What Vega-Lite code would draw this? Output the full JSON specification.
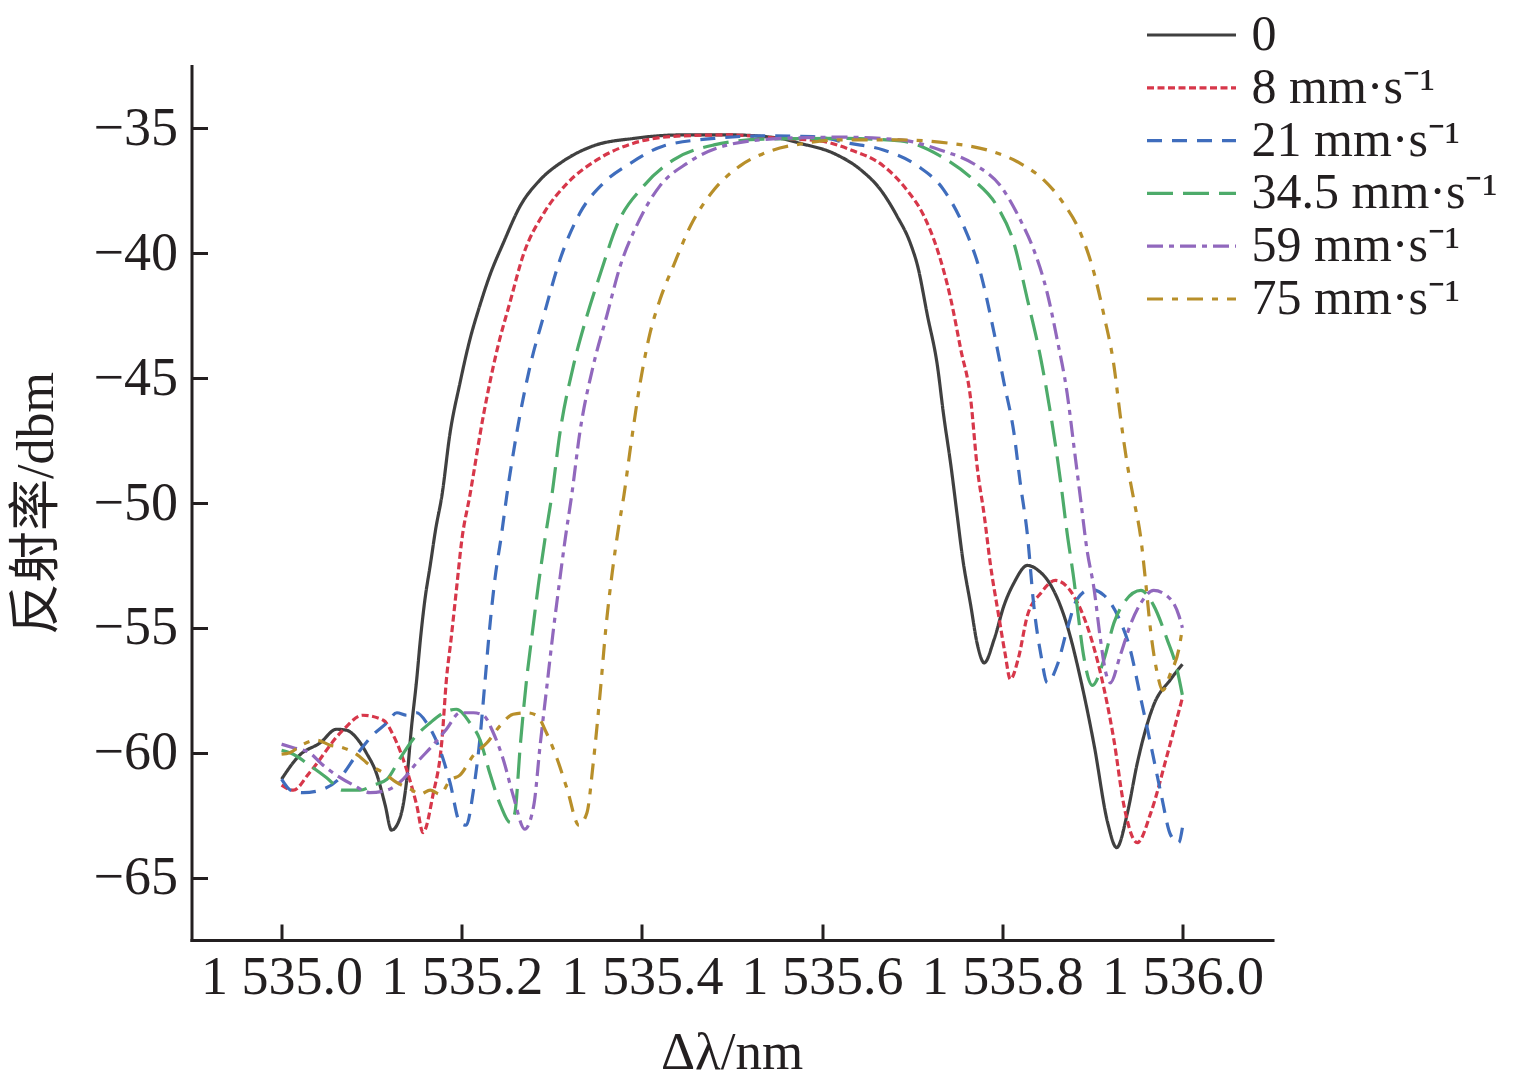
{
  "$schema": "https://vega.github.io/schema/vega-lite/v6.json",
  "width": 1081,
  "height": 874,
  "autosize": {"type": "none"},
  "padding": {"left": 191.5, "top": 66, "right": 262.5, "bottom": 149},
  "background": "white",
  "config": {
    "view": {"stroke": null},
    "font": "Liberation Serif"
  },
  "datasets": {
    "c": [
      {"v":"0","x":1535.000,"y":-61.06},{"v":"0","x":1535.020,"y":-60.10},{"v":"0","x":1535.043,"y":-59.60},{"v":"0","x":1535.061,"y":-59.06},{"v":"0","x":1535.072,"y":-59.10},{"v":"0","x":1535.083,"y":-59.40},{"v":"0","x":1535.094,"y":-60.00},{"v":"0","x":1535.106,"y":-60.90},{"v":"0","x":1535.115,"y":-62.10},{"v":"0","x":1535.122,"y":-63.10},{"v":"0","x":1535.131,"y":-62.66},{"v":"0","x":1535.139,"y":-61.06},{"v":"0","x":1535.144,"y":-59.06},{"v":"0","x":1535.150,"y":-57.06},{"v":"0","x":1535.154,"y":-55.50},{"v":"0","x":1535.159,"y":-53.90},{"v":"0","x":1535.165,"y":-52.50},{"v":"0","x":1535.171,"y":-51.06},{"v":"0","x":1535.178,"y":-49.70},{"v":"0","x":1535.187,"y":-47.20},{"v":"0","x":1535.198,"y":-45.20},{"v":"0","x":1535.209,"y":-43.46},{"v":"0","x":1535.220,"y":-42.10},{"v":"0","x":1535.231,"y":-40.90},{"v":"0","x":1535.246,"y":-39.60},{"v":"0","x":1535.265,"y":-38.10},{"v":"0","x":1535.287,"y":-37.06},{"v":"0","x":1535.313,"y":-36.30},{"v":"0","x":1535.346,"y":-35.70},{"v":"0","x":1535.391,"y":-35.40},{"v":"0","x":1535.443,"y":-35.26},{"v":"0","x":1535.498,"y":-35.26},{"v":"0","x":1535.554,"y":-35.40},{"v":"0","x":1535.576,"y":-35.60},{"v":"0","x":1535.613,"y":-36.00},{"v":"0","x":1535.643,"y":-36.66},{"v":"0","x":1535.665,"y":-37.46},{"v":"0","x":1535.683,"y":-38.50},{"v":"0","x":1535.698,"y":-39.60},{"v":"0","x":1535.706,"y":-40.50},{"v":"0","x":1535.717,"y":-42.50},{"v":"0","x":1535.728,"y":-44.50},{"v":"0","x":1535.735,"y":-46.50},{"v":"0","x":1535.743,"y":-48.50},{"v":"0","x":1535.750,"y":-50.50},{"v":"0","x":1535.756,"y":-52.20},{"v":"0","x":1535.765,"y":-54.10},{"v":"0","x":1535.772,"y":-55.60},{"v":"0","x":1535.780,"y":-56.40},{"v":"0","x":1535.791,"y":-55.46},{"v":"0","x":1535.802,"y":-54.10},{"v":"0","x":1535.813,"y":-53.20},{"v":"0","x":1535.828,"y":-52.50},{"v":"0","x":1535.840,"y":-52.70},{"v":"0","x":1535.854,"y":-53.30},{"v":"0","x":1535.872,"y":-54.90},{"v":"0","x":1535.887,"y":-57.06},{"v":"0","x":1535.902,"y":-59.70},{"v":"0","x":1535.917,"y":-62.80},{"v":"0","x":1535.927,"y":-63.80},{"v":"0","x":1535.939,"y":-62.40},{"v":"0","x":1535.950,"y":-60.40},{"v":"0","x":1535.968,"y":-58.10},{"v":"0","x":1535.987,"y":-57.06},{"v":"0","x":1536.000,"y":-56.46},

      {"v":"8 mm·s⁻¹","x":1535.000,"y":-61.30},{"v":"8 mm·s⁻¹","x":1535.013,"y":-61.50},{"v":"8 mm·s⁻¹","x":1535.031,"y":-60.80},{"v":"8 mm·s⁻¹","x":1535.068,"y":-59.10},{"v":"8 mm·s⁻¹","x":1535.090,"y":-58.50},{"v":"8 mm·s⁻¹","x":1535.113,"y":-58.70},{"v":"8 mm·s⁻¹","x":1535.124,"y":-59.30},{"v":"8 mm·s⁻¹","x":1535.139,"y":-60.70},{"v":"8 mm·s⁻¹","x":1535.150,"y":-62.10},{"v":"8 mm·s⁻¹","x":1535.157,"y":-63.20},{"v":"8 mm·s⁻¹","x":1535.168,"y":-61.70},{"v":"8 mm·s⁻¹","x":1535.178,"y":-59.50},{"v":"8 mm·s⁻¹","x":1535.183,"y":-57.06},{"v":"8 mm·s⁻¹","x":1535.188,"y":-55.50},{"v":"8 mm·s⁻¹","x":1535.194,"y":-53.50},{"v":"8 mm·s⁻¹","x":1535.200,"y":-51.50},{"v":"8 mm·s⁻¹","x":1535.209,"y":-49.70},{"v":"8 mm·s⁻¹","x":1535.224,"y":-46.50},{"v":"8 mm·s⁻¹","x":1535.239,"y":-43.90},{"v":"8 mm·s⁻¹","x":1535.254,"y":-41.90},{"v":"8 mm·s⁻¹","x":1535.268,"y":-40.10},{"v":"8 mm·s⁻¹","x":1535.291,"y":-38.40},{"v":"8 mm·s⁻¹","x":1535.317,"y":-37.20},{"v":"8 mm·s⁻¹","x":1535.350,"y":-36.26},{"v":"8 mm·s⁻¹","x":1535.390,"y":-35.60},{"v":"8 mm·s⁻¹","x":1535.443,"y":-35.30},{"v":"8 mm·s⁻¹","x":1535.498,"y":-35.26},{"v":"8 mm·s⁻¹","x":1535.554,"y":-35.40},{"v":"8 mm·s⁻¹","x":1535.598,"y":-35.50},{"v":"8 mm·s⁻¹","x":1535.632,"y":-35.86},{"v":"8 mm·s⁻¹","x":1535.668,"y":-36.50},{"v":"8 mm·s⁻¹","x":1535.694,"y":-37.46},{"v":"8 mm·s⁻¹","x":1535.713,"y":-38.50},{"v":"8 mm·s⁻¹","x":1535.728,"y":-39.86},{"v":"8 mm·s⁻¹","x":1535.743,"y":-41.86},{"v":"8 mm·s⁻¹","x":1535.754,"y":-43.86},{"v":"8 mm·s⁻¹","x":1535.765,"y":-45.86},{"v":"8 mm·s⁻¹","x":1535.772,"y":-48.50},{"v":"8 mm·s⁻¹","x":1535.780,"y":-50.50},{"v":"8 mm·s⁻¹","x":1535.787,"y":-52.50},{"v":"8 mm·s⁻¹","x":1535.796,"y":-54.50},{"v":"8 mm·s⁻¹","x":1535.803,"y":-56.00},{"v":"8 mm·s⁻¹","x":1535.809,"y":-57.06},{"v":"8 mm·s⁻¹","x":1535.818,"y":-56.20},{"v":"8 mm·s⁻¹","x":1535.828,"y":-54.50},{"v":"8 mm·s⁻¹","x":1535.843,"y":-53.60},{"v":"8 mm·s⁻¹","x":1535.859,"y":-53.10},{"v":"8 mm·s⁻¹","x":1535.879,"y":-53.70},{"v":"8 mm·s⁻¹","x":1535.894,"y":-54.90},{"v":"8 mm·s⁻¹","x":1535.909,"y":-56.80},{"v":"8 mm·s⁻¹","x":1535.924,"y":-59.50},{"v":"8 mm·s⁻¹","x":1535.935,"y":-62.10},{"v":"8 mm·s⁻¹","x":1535.950,"y":-63.60},{"v":"8 mm·s⁻¹","x":1535.965,"y":-62.40},{"v":"8 mm·s⁻¹","x":1535.983,"y":-60.10},{"v":"8 mm·s⁻¹","x":1536.000,"y":-57.80},

      {"v":"21 mm·s⁻¹","x":1535.000,"y":-61.06},{"v":"21 mm·s⁻¹","x":1535.010,"y":-61.50},{"v":"21 mm·s⁻¹","x":1535.024,"y":-61.60},{"v":"21 mm·s⁻¹","x":1535.043,"y":-61.50},{"v":"21 mm·s⁻¹","x":1535.065,"y":-61.00},{"v":"21 mm·s⁻¹","x":1535.083,"y":-60.10},{"v":"21 mm·s⁻¹","x":1535.101,"y":-59.30},{"v":"21 mm·s⁻¹","x":1535.117,"y":-58.80},{"v":"21 mm·s⁻¹","x":1535.128,"y":-58.40},{"v":"21 mm·s⁻¹","x":1535.139,"y":-58.50},{"v":"21 mm·s⁻¹","x":1535.150,"y":-58.40},{"v":"21 mm·s⁻¹","x":1535.161,"y":-58.80},{"v":"21 mm·s⁻¹","x":1535.176,"y":-59.90},{"v":"21 mm·s⁻¹","x":1535.187,"y":-61.20},{"v":"21 mm·s⁻¹","x":1535.198,"y":-62.80},{"v":"21 mm·s⁻¹","x":1535.205,"y":-62.90},{"v":"21 mm·s⁻¹","x":1535.213,"y":-61.50},{"v":"21 mm·s⁻¹","x":1535.220,"y":-59.50},{"v":"21 mm·s⁻¹","x":1535.226,"y":-57.06},{"v":"21 mm·s⁻¹","x":1535.231,"y":-55.00},{"v":"21 mm·s⁻¹","x":1535.237,"y":-53.00},{"v":"21 mm·s⁻¹","x":1535.244,"y":-51.30},{"v":"21 mm·s⁻¹","x":1535.250,"y":-49.70},{"v":"21 mm·s⁻¹","x":1535.261,"y":-47.20},{"v":"21 mm·s⁻¹","x":1535.276,"y":-44.50},{"v":"21 mm·s⁻¹","x":1535.291,"y":-42.50},{"v":"21 mm·s⁻¹","x":1535.309,"y":-40.26},{"v":"21 mm·s⁻¹","x":1535.331,"y":-38.40},{"v":"21 mm·s⁻¹","x":1535.357,"y":-37.20},{"v":"21 mm·s⁻¹","x":1535.387,"y":-36.40},{"v":"21 mm·s⁻¹","x":1535.424,"y":-35.70},{"v":"21 mm·s⁻¹","x":1535.480,"y":-35.40},{"v":"21 mm·s⁻¹","x":1535.535,"y":-35.30},{"v":"21 mm·s⁻¹","x":1535.590,"y":-35.33},{"v":"21 mm·s⁻¹","x":1535.631,"y":-35.60},{"v":"21 mm·s⁻¹","x":1535.668,"y":-35.86},{"v":"21 mm·s⁻¹","x":1535.706,"y":-36.50},{"v":"21 mm·s⁻¹","x":1535.735,"y":-37.46},{"v":"21 mm·s⁻¹","x":1535.757,"y":-38.90},{"v":"21 mm·s⁻¹","x":1535.776,"y":-40.80},{"v":"21 mm·s⁻¹","x":1535.791,"y":-43.20},{"v":"21 mm·s⁻¹","x":1535.802,"y":-45.20},{"v":"21 mm·s⁻¹","x":1535.813,"y":-47.20},{"v":"21 mm·s⁻¹","x":1535.820,"y":-49.20},{"v":"21 mm·s⁻¹","x":1535.828,"y":-51.30},{"v":"21 mm·s⁻¹","x":1535.835,"y":-54.10},{"v":"21 mm·s⁻¹","x":1535.843,"y":-56.10},{"v":"21 mm·s⁻¹","x":1535.850,"y":-57.20},{"v":"21 mm·s⁻¹","x":1535.861,"y":-56.50},{"v":"21 mm·s⁻¹","x":1535.872,"y":-55.06},{"v":"21 mm·s⁻¹","x":1535.883,"y":-53.86},{"v":"21 mm·s⁻¹","x":1535.898,"y":-53.46},{"v":"21 mm·s⁻¹","x":1535.913,"y":-53.70},{"v":"21 mm·s⁻¹","x":1535.928,"y":-54.50},{"v":"21 mm·s⁻¹","x":1535.942,"y":-55.86},{"v":"21 mm·s⁻¹","x":1535.954,"y":-57.86},{"v":"21 mm·s⁻¹","x":1535.965,"y":-59.70},{"v":"21 mm·s⁻¹","x":1535.976,"y":-61.60},{"v":"21 mm·s⁻¹","x":1535.987,"y":-63.30},{"v":"21 mm·s⁻¹","x":1535.996,"y":-63.60},{"v":"21 mm·s⁻¹","x":1536.000,"y":-63.00},

      {"v":"34.5 mm·s⁻¹","x":1535.000,"y":-59.90},{"v":"34.5 mm·s⁻¹","x":1535.013,"y":-60.06},{"v":"34.5 mm·s⁻¹","x":1535.031,"y":-60.50},{"v":"34.5 mm·s⁻¹","x":1535.050,"y":-61.00},{"v":"34.5 mm·s⁻¹","x":1535.068,"y":-61.50},{"v":"34.5 mm·s⁻¹","x":1535.087,"y":-61.50},{"v":"34.5 mm·s⁻¹","x":1535.102,"y":-61.30},{"v":"34.5 mm·s⁻¹","x":1535.117,"y":-61.06},{"v":"34.5 mm·s⁻¹","x":1535.131,"y":-60.26},{"v":"34.5 mm·s⁻¹","x":1535.146,"y":-59.46},{"v":"34.5 mm·s⁻¹","x":1535.165,"y":-58.80},{"v":"34.5 mm·s⁻¹","x":1535.180,"y":-58.40},{"v":"34.5 mm·s⁻¹","x":1535.194,"y":-58.26},{"v":"34.5 mm·s⁻¹","x":1535.209,"y":-58.80},{"v":"34.5 mm·s⁻¹","x":1535.220,"y":-59.46},{"v":"34.5 mm·s⁻¹","x":1535.231,"y":-60.80},{"v":"34.5 mm·s⁻¹","x":1535.243,"y":-62.10},{"v":"34.5 mm·s⁻¹","x":1535.254,"y":-62.80},{"v":"34.5 mm·s⁻¹","x":1535.259,"y":-62.40},{"v":"34.5 mm·s⁻¹","x":1535.265,"y":-59.70},{"v":"34.5 mm·s⁻¹","x":1535.272,"y":-57.06},{"v":"34.5 mm·s⁻¹","x":1535.278,"y":-55.30},{"v":"34.5 mm·s⁻¹","x":1535.285,"y":-53.30},{"v":"34.5 mm·s⁻¹","x":1535.293,"y":-51.30},{"v":"34.5 mm·s⁻¹","x":1535.300,"y":-49.70},{"v":"34.5 mm·s⁻¹","x":1535.309,"y":-47.20},{"v":"34.5 mm·s⁻¹","x":1535.324,"y":-44.50},{"v":"34.5 mm·s⁻¹","x":1535.339,"y":-42.50},{"v":"34.5 mm·s⁻¹","x":1535.354,"y":-40.80},{"v":"34.5 mm·s⁻¹","x":1535.372,"y":-38.90},{"v":"34.5 mm·s⁻¹","x":1535.402,"y":-37.30},{"v":"34.5 mm·s⁻¹","x":1535.435,"y":-36.26},{"v":"34.5 mm·s⁻¹","x":1535.480,"y":-35.66},{"v":"34.5 mm·s⁻¹","x":1535.535,"y":-35.43},{"v":"34.5 mm·s⁻¹","x":1535.620,"y":-35.40},{"v":"34.5 mm·s⁻¹","x":1535.687,"y":-35.50},{"v":"34.5 mm·s⁻¹","x":1535.731,"y":-36.10},{"v":"34.5 mm·s⁻¹","x":1535.768,"y":-37.06},{"v":"34.5 mm·s⁻¹","x":1535.794,"y":-38.10},{"v":"34.5 mm·s⁻¹","x":1535.813,"y":-39.60},{"v":"34.5 mm·s⁻¹","x":1535.828,"y":-41.86},{"v":"34.5 mm·s⁻¹","x":1535.843,"y":-44.26},{"v":"34.5 mm·s⁻¹","x":1535.854,"y":-46.50},{"v":"34.5 mm·s⁻¹","x":1535.865,"y":-49.20},{"v":"34.5 mm·s⁻¹","x":1535.872,"y":-51.20},{"v":"34.5 mm·s⁻¹","x":1535.880,"y":-53.20},{"v":"34.5 mm·s⁻¹","x":1535.883,"y":-54.10},{"v":"34.5 mm·s⁻¹","x":1535.891,"y":-56.26},{"v":"34.5 mm·s⁻¹","x":1535.900,"y":-57.30},{"v":"34.5 mm·s⁻¹","x":1535.913,"y":-56.26},{"v":"34.5 mm·s⁻¹","x":1535.924,"y":-54.80},{"v":"34.5 mm·s⁻¹","x":1535.935,"y":-54.00},{"v":"34.5 mm·s⁻¹","x":1535.954,"y":-53.50},{"v":"34.5 mm·s⁻¹","x":1535.968,"y":-54.10},{"v":"34.5 mm·s⁻¹","x":1535.983,"y":-55.46},{"v":"34.5 mm·s⁻¹","x":1535.994,"y":-56.66},{"v":"34.5 mm·s⁻¹","x":1536.000,"y":-57.70},

      {"v":"59 mm·s⁻¹","x":1535.000,"y":-59.66},{"v":"59 mm·s⁻¹","x":1535.013,"y":-59.80},{"v":"59 mm·s⁻¹","x":1535.031,"y":-60.00},{"v":"59 mm·s⁻¹","x":1535.046,"y":-60.50},{"v":"59 mm·s⁻¹","x":1535.061,"y":-60.90},{"v":"59 mm·s⁻¹","x":1535.080,"y":-61.30},{"v":"59 mm·s⁻¹","x":1535.098,"y":-61.60},{"v":"59 mm·s⁻¹","x":1535.117,"y":-61.50},{"v":"59 mm·s⁻¹","x":1535.135,"y":-61.06},{"v":"59 mm·s⁻¹","x":1535.150,"y":-60.40},{"v":"59 mm·s⁻¹","x":1535.168,"y":-59.70},{"v":"59 mm·s⁻¹","x":1535.183,"y":-59.06},{"v":"59 mm·s⁻¹","x":1535.198,"y":-58.40},{"v":"59 mm·s⁻¹","x":1535.213,"y":-58.40},{"v":"59 mm·s⁻¹","x":1535.224,"y":-58.50},{"v":"59 mm·s⁻¹","x":1535.235,"y":-59.20},{"v":"59 mm·s⁻¹","x":1535.246,"y":-60.26},{"v":"59 mm·s⁻¹","x":1535.257,"y":-61.70},{"v":"59 mm·s⁻¹","x":1535.270,"y":-63.06},{"v":"59 mm·s⁻¹","x":1535.280,"y":-62.10},{"v":"59 mm·s⁻¹","x":1535.287,"y":-59.70},{"v":"59 mm·s⁻¹","x":1535.294,"y":-57.50},{"v":"59 mm·s⁻¹","x":1535.301,"y":-55.30},{"v":"59 mm·s⁻¹","x":1535.308,"y":-53.30},{"v":"59 mm·s⁻¹","x":1535.315,"y":-51.40},{"v":"59 mm·s⁻¹","x":1535.322,"y":-49.70},{"v":"59 mm·s⁻¹","x":1535.331,"y":-47.20},{"v":"59 mm·s⁻¹","x":1535.346,"y":-44.50},{"v":"59 mm·s⁻¹","x":1535.361,"y":-42.50},{"v":"59 mm·s⁻¹","x":1535.376,"y":-40.50},{"v":"59 mm·s⁻¹","x":1535.394,"y":-38.90},{"v":"59 mm·s⁻¹","x":1535.420,"y":-37.30},{"v":"59 mm·s⁻¹","x":1535.450,"y":-36.40},{"v":"59 mm·s⁻¹","x":1535.491,"y":-35.70},{"v":"59 mm·s⁻¹","x":1535.554,"y":-35.40},{"v":"59 mm·s⁻¹","x":1535.620,"y":-35.35},{"v":"59 mm·s⁻¹","x":1535.687,"y":-35.46},{"v":"59 mm·s⁻¹","x":1535.731,"y":-35.86},{"v":"59 mm·s⁻¹","x":1535.772,"y":-36.50},{"v":"59 mm·s⁻¹","x":1535.798,"y":-37.30},{"v":"59 mm·s⁻¹","x":1535.820,"y":-38.66},{"v":"59 mm·s⁻¹","x":1535.835,"y":-39.86},{"v":"59 mm·s⁻¹","x":1535.850,"y":-41.60},{"v":"59 mm·s⁻¹","x":1535.861,"y":-43.46},{"v":"59 mm·s⁻¹","x":1535.872,"y":-45.60},{"v":"59 mm·s⁻¹","x":1535.880,"y":-47.86},{"v":"59 mm·s⁻¹","x":1535.887,"y":-49.86},{"v":"59 mm·s⁻¹","x":1535.894,"y":-51.86},{"v":"59 mm·s⁻¹","x":1535.902,"y":-53.46},{"v":"59 mm·s⁻¹","x":1535.909,"y":-55.46},{"v":"59 mm·s⁻¹","x":1535.915,"y":-56.80},{"v":"59 mm·s⁻¹","x":1535.920,"y":-57.20},{"v":"59 mm·s⁻¹","x":1535.931,"y":-56.10},{"v":"59 mm·s⁻¹","x":1535.942,"y":-54.90},{"v":"59 mm·s⁻¹","x":1535.954,"y":-54.00},{"v":"59 mm·s⁻¹","x":1535.968,"y":-53.50},{"v":"59 mm·s⁻¹","x":1535.987,"y":-53.86},{"v":"59 mm·s⁻¹","x":1535.996,"y":-54.50},{"v":"59 mm·s⁻¹","x":1536.000,"y":-55.00},

      {"v":"75 mm·s⁻¹","x":1535.000,"y":-60.06},{"v":"75 mm·s⁻¹","x":1535.009,"y":-60.00},{"v":"75 mm·s⁻¹","x":1535.024,"y":-59.66},{"v":"75 mm·s⁻¹","x":1535.039,"y":-59.50},{"v":"75 mm·s⁻¹","x":1535.054,"y":-59.70},{"v":"75 mm·s⁻¹","x":1535.068,"y":-59.80},{"v":"75 mm·s⁻¹","x":1535.083,"y":-60.06},{"v":"75 mm·s⁻¹","x":1535.098,"y":-60.50},{"v":"75 mm·s⁻¹","x":1535.113,"y":-60.80},{"v":"75 mm·s⁻¹","x":1535.128,"y":-61.20},{"v":"75 mm·s⁻¹","x":1535.143,"y":-61.46},{"v":"75 mm·s⁻¹","x":1535.154,"y":-61.66},{"v":"75 mm·s⁻¹","x":1535.165,"y":-61.50},{"v":"75 mm·s⁻¹","x":1535.176,"y":-61.66},{"v":"75 mm·s⁻¹","x":1535.187,"y":-61.10},{"v":"75 mm·s⁻¹","x":1535.198,"y":-60.90},{"v":"75 mm·s⁻¹","x":1535.213,"y":-60.10},{"v":"75 mm·s⁻¹","x":1535.228,"y":-59.60},{"v":"75 mm·s⁻¹","x":1535.243,"y":-58.90},{"v":"75 mm·s⁻¹","x":1535.257,"y":-58.46},{"v":"75 mm·s⁻¹","x":1535.272,"y":-58.40},{"v":"75 mm·s⁻¹","x":1535.283,"y":-58.50},{"v":"75 mm·s⁻¹","x":1535.294,"y":-59.20},{"v":"75 mm·s⁻¹","x":1535.306,"y":-60.26},{"v":"75 mm·s⁻¹","x":1535.317,"y":-61.46},{"v":"75 mm·s⁻¹","x":1535.330,"y":-62.90},{"v":"75 mm·s⁻¹","x":1535.339,"y":-62.40},{"v":"75 mm·s⁻¹","x":1535.346,"y":-60.40},{"v":"75 mm·s⁻¹","x":1535.354,"y":-57.46},{"v":"75 mm·s⁻¹","x":1535.360,"y":-55.00},{"v":"75 mm·s⁻¹","x":1535.367,"y":-52.80},{"v":"75 mm·s⁻¹","x":1535.374,"y":-51.00},{"v":"75 mm·s⁻¹","x":1535.380,"y":-49.70},{"v":"75 mm·s⁻¹","x":1535.387,"y":-47.86},{"v":"75 mm·s⁻¹","x":1535.398,"y":-45.20},{"v":"75 mm·s⁻¹","x":1535.409,"y":-43.20},{"v":"75 mm·s⁻¹","x":1535.420,"y":-41.86},{"v":"75 mm·s⁻¹","x":1535.435,"y":-40.50},{"v":"75 mm·s⁻¹","x":1535.454,"y":-38.90},{"v":"75 mm·s⁻¹","x":1535.480,"y":-37.46},{"v":"75 mm·s⁻¹","x":1535.509,"y":-36.50},{"v":"75 mm·s⁻¹","x":1535.543,"y":-35.90},{"v":"75 mm·s⁻¹","x":1535.580,"y":-35.60},{"v":"75 mm·s⁻¹","x":1535.620,"y":-35.46},{"v":"75 mm·s⁻¹","x":1535.687,"y":-35.46},{"v":"75 mm·s⁻¹","x":1535.743,"y":-35.60},{"v":"75 mm·s⁻¹","x":1535.783,"y":-35.86},{"v":"75 mm·s⁻¹","x":1535.820,"y":-36.40},{"v":"75 mm·s⁻¹","x":1535.846,"y":-37.06},{"v":"75 mm·s⁻¹","x":1535.868,"y":-38.00},{"v":"75 mm·s⁻¹","x":1535.887,"y":-39.20},{"v":"75 mm·s⁻¹","x":1535.902,"y":-40.80},{"v":"75 mm·s⁻¹","x":1535.913,"y":-42.50},{"v":"75 mm·s⁻¹","x":1535.924,"y":-44.50},{"v":"75 mm·s⁻¹","x":1535.931,"y":-46.50},{"v":"75 mm·s⁻¹","x":1535.939,"y":-48.50},{"v":"75 mm·s⁻¹","x":1535.946,"y":-49.86},{"v":"75 mm·s⁻¹","x":1535.954,"y":-51.46},{"v":"75 mm·s⁻¹","x":1535.959,"y":-53.10},{"v":"75 mm·s⁻¹","x":1535.965,"y":-55.20},{"v":"75 mm·s⁻¹","x":1535.972,"y":-56.80},{"v":"75 mm·s⁻¹","x":1535.978,"y":-57.50},{"v":"75 mm·s⁻¹","x":1535.987,"y":-56.80},{"v":"75 mm·s⁻¹","x":1535.996,"y":-55.86},{"v":"75 mm·s⁻¹","x":1536.000,"y":-55.00}
    ]
  },
  "data": {"name": "c"},
  "mark": {"type": "line", "strokeWidth": 3.2, "interpolate": "monotone", "clip": false},
  "encoding": {
    "x": {
      "field": "x", "type": "quantitative",
      "scale": {"domain": [1534.9, 1536.1], "nice": false, "zero": false},
      "axis": {
        "values": [1535.0, 1535.2, 1535.4, 1535.6, 1535.8, 1536.0],
        "labelExpr": "'1 ' + format(datum.value - 1000, '.1f')",
        "grid": false,
        "domainColor": "#231f20", "domainWidth": 3, "domainCap": "square",
        "tickColor": "#231f20", "tickWidth": 3, "tickSize": -16,
        "labelPadding": 26, "labelFont": "Liberation Serif", "labelFontSize": 54, "labelColor": "#231f20",
        "labelOverlap": false, "labelFlush": false,
        "title": "Δλ/nm", "titleFont": "Liberation Serif", "titleFontSize": 53, "titleFontWeight": "normal", "titleColor": "#231f20",
        "titleX": 540, "titleY": 128, "titleBaseline": "alphabetic", "titleAlign": "center"
      }
    },
    "y": {
      "field": "y", "type": "quantitative",
      "scale": {"domain": [-67.5, -32.5], "nice": false, "zero": false},
      "axis": {
        "values": [-65, -60, -55, -50, -45, -40, -35],
        "grid": false,
        "domainColor": "#231f20", "domainWidth": 3, "domainCap": "square",
        "tickColor": "#231f20", "tickWidth": 3, "tickSize": -16,
        "labelPadding": 30, "labelFont": "Liberation Serif", "labelFontSize": 54, "labelColor": "#231f20",
        "labelOverlap": false, "labelFlush": false,
        "title": "反射率/dbm", "titleFont": "Liberation Serif, Noto Sans CJK SC", "titleFontSize": 52, "titleFontWeight": "normal", "titleColor": "#231f20",
        "titleAngle": -90, "titleX": -155, "titleY": 437, "titleBaseline": "middle", "titleAlign": "center"
      }
    },
    "color": {
      "field": "v", "type": "nominal",
      "scale": {
        "domain": ["0", "8 mm·s⁻¹", "21 mm·s⁻¹", "34.5 mm·s⁻¹", "59 mm·s⁻¹", "75 mm·s⁻¹"],
        "range": ["#404040", "#d7374a", "#3f6dbd", "#4dab6a", "#9168bd", "#b88f2a"]
      },
      "legend": {
        "orient": "none", "legendX": 975, "legendY": -56,
        "title": null, "padding": 0,
        "symbolType": "M-2,0H2", "symbolSize": 1980, "symbolStrokeWidth": 3.2,
        "labelFont": "Liberation Serif", "labelFontSize": 50, "labelColor": "#231f20",
        "labelOffset": 35, "rowPadding": 2.8, "labelLimit": 400
      }
    },
    "strokeDash": {
      "field": "v", "type": "nominal",
      "scale": {
        "domain": ["0", "8 mm·s⁻¹", "21 mm·s⁻¹", "34.5 mm·s⁻¹", "59 mm·s⁻¹", "75 mm·s⁻¹"],
        "range": [[1, 0], [7, 3.5], [15, 10], [26, 10], [16, 6, 5, 6], [16, 9, 6, 9]]
      }
    }
  }
}
